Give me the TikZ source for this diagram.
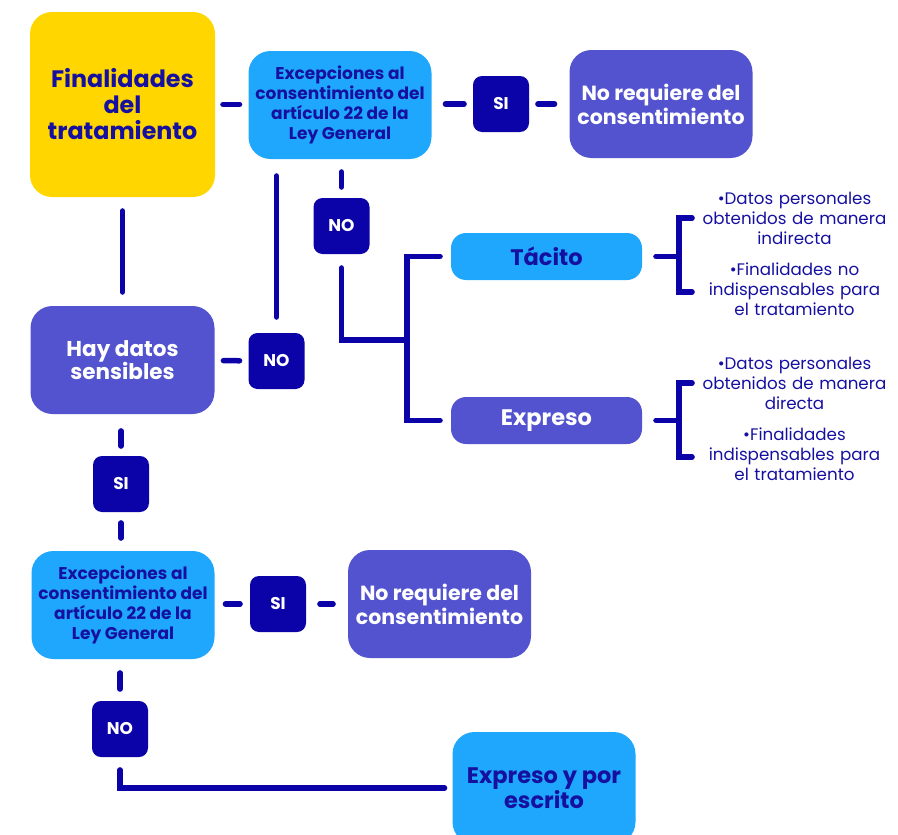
\documentclass[tikz,border=0pt]{standalone}
\usepackage{fontspec}
\setmainfont{Poppins}
\definecolor{amarillo}{HTML}{FFD600}
\definecolor{celeste}{HTML}{1EA7FD}
\definecolor{violeta}{HTML}{5353CF}
\definecolor{marino}{HTML}{0B03A8}
\definecolor{tinta}{HTML}{1610A0}
\begin{document}
\begin{tikzpicture}[x=1pt,y=-1pt,
  caja/.style={rounded corners=22pt,align=center,inner sep=0pt,minimum width=183pt,minimum height=108pt},
  amar/.style={caja,fill=amarillo,text=tinta,font=\bfseries\fontsize{23.8}{26}\selectfont},
  azul/.style={caja,fill=celeste,text=tinta,font=\bfseries\fontsize{17}{20}\selectfont},
  lila/.style={caja,fill=violeta,text=white,font=\bfseries\fontsize{20.5}{24}\selectfont},
  tipo/.style={rounded corners=15pt,minimum width=191pt,minimum height=47pt,inner sep=0pt,font=\bfseries\fontsize{22.5}{26}\selectfont},
  sino/.style={fill=marino,text=white,rounded corners=9pt,minimum size=56pt,inner sep=0pt,font=\bfseries\fontsize{17}{20}\selectfont},
  nota/.style={text=tinta,text width=190pt,align=center,inner sep=0pt,font=\fontsize{16.7}{20}\selectfont},
  linea/.style={draw=marino,line width=5.5pt,line cap=round},
  tramo/.style 2 args={linea,shorten <=#1,shorten >=#2}]
\useasboundingbox (0,0) rectangle (898,835);

% fila superior
\node[amar,minimum width=185pt,minimum height=185pt] (fin) at (122.5,104.5) {Finalidades\\del\\tratamiento};
\node[azul] (exc1) at (340,105) {Excepciones al\\consentimiento del\\artículo 22 de la\\Ley General};
\node[sino] (si1) at (501,104) {SI};
\node[lila] (nr1) at (661,104) {No requiere del\\consentimiento};
\node[sino] (no1) at (341.5,226) {NO};
\node[sino] (no2) at (276.5,361) {NO};
\node[lila,minimum width=184pt,font=\bfseries\fontsize{21.5}{23}\selectfont] (hay) at (122.5,360) {Hay datos\\sensibles};

% tacito y expreso
\node[tipo,fill=celeste,text=tinta] (tac) at (546.5,256.5) {Tácito};
\node[tipo,fill=violeta,text=white] (exp) at (546.5,420.5) {Expreso};
\node[nota] (tacA) at (794.5,218) {•Datos personales\\obtenidos de manera\\indirecta};
\node[nota] (tacB) at (794.5,289) {•Finalidades no\\indispensables para\\el tratamiento};
\node[nota] (expA) at (794.5,383) {•Datos personales\\obtenidos de manera\\directa};
\node[nota] (expB) at (794.5,454) {•Finalidades\\indispensables para\\el tratamiento};

% fila inferior
\node[sino] (si2) at (121,484) {SI};
\node[azul] (exc2) at (123,605) {Excepciones al\\consentimiento del\\artículo 22 de la\\Ley General};
\node[sino] (si3) at (278,604) {SI};
\node[lila] (nr2) at (439.5,604) {No requiere del\\consentimiento};
\node[sino] (no3) at (120,729) {NO};
\node[azul,minimum height=112pt,font=\bfseries\fontsize{22.5}{19}\selectfont] (esc) at (544,788) {Expreso y por\\escrito};

% conectores
\draw[tramo={7.75pt}{8.75pt}] (fin) -- (exc1.west |- fin);
\draw[tramo={13.75pt}{8.75pt}] (exc1.east |- si1) -- (si1);
\draw[tramo={8.75pt}{14.75pt}] (si1) -- (nr1);
\draw[tramo={12.75pt}{10.75pt}] (exc1.south -| no1) -- (no1);
\draw[tramo={16.75pt}{15.75pt}] (exc1.south -| no2) -- (no2.north);
\draw[tramo={13.75pt}{13.75pt}] (fin) -- (hay);
\draw[tramo={8.75pt}{8.75pt}] (hay) -- (no2);
\draw[tramo={16.75pt}{9.75pt}] (hay.south -| si2) -- (si2);
\draw[tramo={10.75pt}{12.75pt}] (si2) -- (exc2.north -| si2);
\draw[tramo={10.75pt}{9.75pt}] (exc2.east |- si3) -- (si3);
\draw[tramo={13.75pt}{14.75pt}] (si3) -- (nr2);
\draw[tramo={13.75pt}{11.75pt}] (exc2.south -| no3) -- (no3);
\draw[tramo={12.75pt}{7.75pt}] (no3.south) |- (esc.west);

\coordinate (split) at (407,340);
\draw[linea,shorten <=13.75pt] (no1.south) |- (split);
\draw[linea] ([xshift=-10.75pt]tac.west) -| (split) |- ([xshift=-10.75pt]exp.west);

\draw[linea] ([xshift=13.75pt]tac.east) -- ++(23,0) coordinate (ct);
\draw[linea] ([xshift=-7.25pt]tacA.west) -- (tacA.west -| ct) -- ([yshift=-3pt]tacB.west -| ct) -- ([xshift=-7.25pt,yshift=-3pt]tacB.west);
\draw[linea] ([xshift=13.75pt]exp.east) -- ++(23,0) coordinate (ce);
\draw[linea] ([xshift=-7.25pt]expA.west) -- (expA.west -| ce) -- ([yshift=-3pt]expB.west -| ce) -- ([xshift=-7.25pt,yshift=-3pt]expB.west);
\end{tikzpicture}
\end{document}
